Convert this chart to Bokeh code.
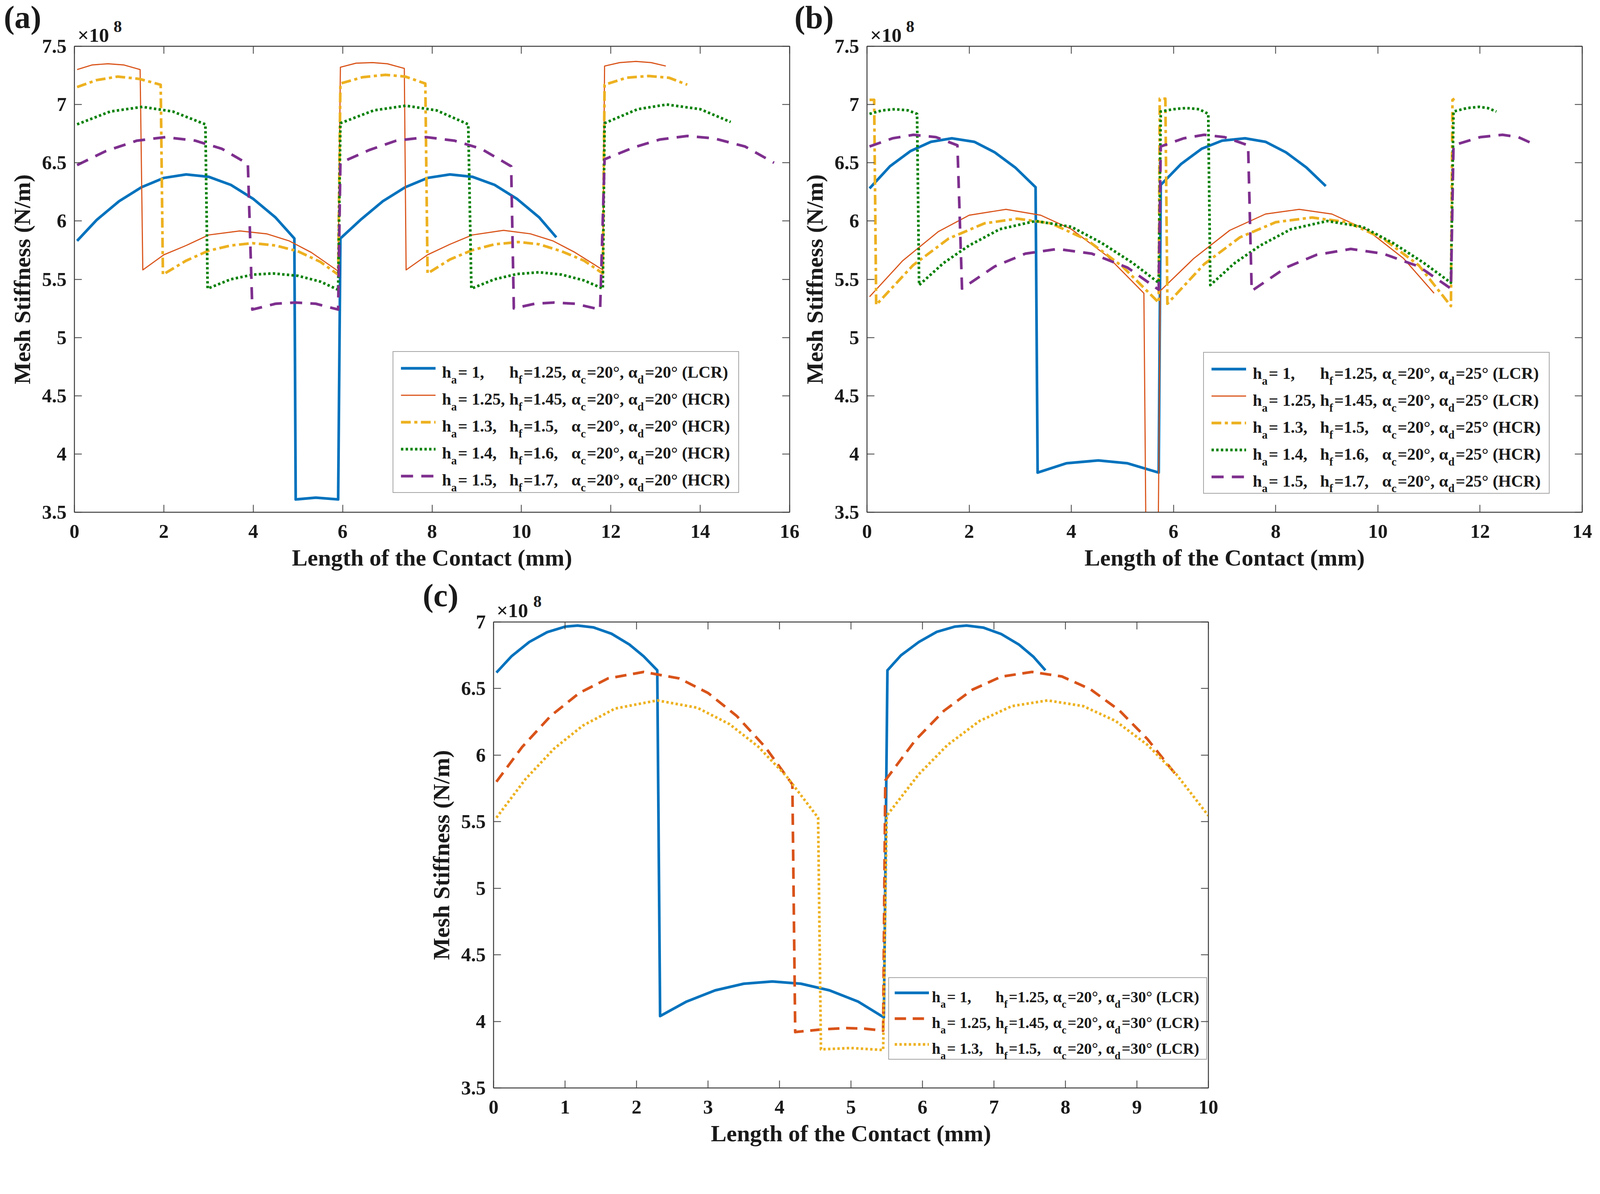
from bokeh.plotting import figure
from bokeh.models import (Range1d, FixedTicker, LinearAxis, Label, Legend,
                          LegendItem, Spacer, CustomJSTickFormatter, Div)
from bokeh.layouts import row, column
from bokeh.embed import file_html
from bokeh.resources import INLINE

FONT = "Liberation Serif"
INK = "#1a1a1a"
AXC = "#3c3c3c"
BLUE, RED, YELLOW, GREEN, PURPLE = "#0072BD", "#D95319", "#EDB120", "#008000", "#7E2F8E"
S = 0.969  # page px per picture px

# ---------------- panel (a): alpha_d = 20 deg ----------------
a_xticks = [0, 2, 4, 6, 8, 10, 12, 14, 16]
a_yticks = [3.5, 4, 4.5, 5, 5.5, 6, 6.5, 7, 7.5]

a1_x = [0.06, 0.5, 1.0, 1.5, 2.0, 2.5, 3.0, 3.5, 4.0, 4.5, 4.92, 4.95, 5.4, 5.90,
        5.95, 6.4, 6.9, 7.4, 7.9, 8.4, 8.9, 9.4, 9.9, 10.4, 10.78]
a1_y = [5.83, 6.01, 6.17, 6.29, 6.37, 6.40, 6.38, 6.31, 6.19, 6.03, 5.85, 3.61, 3.625, 3.61,
        5.85, 6.01, 6.17, 6.29, 6.37, 6.40, 6.38, 6.31, 6.19, 6.03, 5.86]

a2_x = [0.06, 0.4, 0.75, 1.1, 1.47, 1.53, 2.0, 2.5, 3.0, 3.7, 4.3, 4.8, 5.3, 5.90,
        5.95, 6.3, 6.67, 7.0, 7.38, 7.42, 7.9, 8.4, 8.9, 9.6, 10.2, 10.7, 11.2, 11.82,
        11.86, 12.2, 12.56, 12.9, 13.23]
a2_y = [7.30, 7.34, 7.35, 7.34, 7.30, 5.58, 5.71, 5.79, 5.88, 5.915, 5.89, 5.83, 5.73, 5.57,
        7.32, 7.355, 7.36, 7.35, 7.31, 5.58, 5.71, 5.80, 5.88, 5.92, 5.89, 5.83, 5.73, 5.58,
        7.33, 7.36, 7.37, 7.36, 7.33]

a3_x = [0.06, 0.5, 0.97, 1.45, 1.93, 1.98, 2.5, 3.0, 3.5, 3.98, 4.5, 5.0, 5.5, 5.90,
        5.95, 6.45, 6.96, 7.4, 7.85, 7.90, 8.4, 8.9, 9.4, 9.93, 10.4, 10.9, 11.4, 11.82,
        11.86, 12.35, 12.85, 13.3, 13.71]
a3_y = [7.15, 7.21, 7.24, 7.22, 7.17, 5.54, 5.66, 5.745, 5.79, 5.81, 5.79, 5.74, 5.65, 5.54,
        7.18, 7.235, 7.255, 7.24, 7.18, 5.55, 5.67, 5.75, 5.80, 5.82, 5.80, 5.74, 5.66, 5.55,
        7.17, 7.23, 7.245, 7.23, 7.17]

a4_x = [0.06, 0.8, 1.52, 2.2, 2.93, 2.98, 3.5, 4.0, 4.44, 5.0, 5.5, 5.90,
        5.95, 6.7, 7.41, 8.1, 8.81, 8.88, 9.4, 9.9, 10.39, 10.9, 11.4, 11.82,
        11.86, 12.6, 13.25, 14.0, 14.68]
a4_y = [6.83, 6.94, 6.98, 6.94, 6.83, 5.42, 5.50, 5.54, 5.55, 5.53, 5.48, 5.41,
        6.84, 6.95, 6.99, 6.95, 6.83, 5.42, 5.50, 5.545, 5.56, 5.54, 5.49, 5.42,
        6.84, 6.96, 7.00, 6.96, 6.85]

a5_x = [0.06, 0.7, 1.4, 2.04, 2.7, 3.3, 3.88, 3.98, 4.5, 4.95, 5.4, 5.90,
        5.95, 6.6, 7.2, 7.87, 8.5, 9.1, 9.77, 9.83, 10.3, 10.73, 11.2, 11.76,
        11.86, 12.5, 13.1, 13.71, 14.3, 15.0, 15.65]
a5_y = [6.48, 6.60, 6.69, 6.72, 6.69, 6.62, 6.49, 5.24, 5.29, 5.30, 5.29, 5.24,
        6.50, 6.61, 6.69, 6.72, 6.69, 6.62, 6.47, 5.25, 5.29, 5.30, 5.29, 5.24,
        6.53, 6.63, 6.70, 6.73, 6.71, 6.64, 6.50]

a_ha = ["1", "1.25", "1.3", "1.4", "1.5"]
a_hf = ["1.25", "1.45", "1.5", "1.6", "1.7"]
a_ad = "20"
a_cr = ["LCR", "HCR", "HCR", "HCR", "HCR"]

# ---------------- panel (b): alpha_d = 25 deg ----------------
b_xticks = [0, 2, 4, 6, 8, 10, 12, 14]
b_yticks = [3.5, 4, 4.5, 5, 5.5, 6, 6.5, 7, 7.5]

b1_x = [0.05, 0.45, 0.85, 1.25, 1.66, 2.1, 2.5, 2.9, 3.30, 3.34, 3.9, 4.53, 5.1, 5.71,
        5.75, 6.15, 6.55, 6.95, 7.40, 7.8, 8.2, 8.6, 8.98]
b1_y = [6.28, 6.47, 6.60, 6.68, 6.71, 6.68, 6.59, 6.46, 6.29, 3.84, 3.92, 3.945, 3.92, 3.84,
        6.31, 6.49, 6.62, 6.69, 6.71, 6.68, 6.59, 6.46, 6.30]

b2_x = [0.05, 0.7, 1.4, 2.0, 2.72, 3.4, 4.0, 4.7, 5.42, 5.46, 5.70,
        5.74, 6.4, 7.1, 7.8, 8.46, 9.1, 9.8, 10.5, 11.10]
b2_y = [5.35, 5.66, 5.91, 6.05, 6.10, 6.05, 5.93, 5.70, 5.38, 3.3, 3.3,
        5.40, 5.68, 5.92, 6.06, 6.10, 6.06, 5.92, 5.68, 5.38]

b3_x = [0.05, 0.14, 0.18, 0.9, 1.6, 2.3, 2.94, 3.6, 4.3, 5.0, 5.71, 5.73, 5.84,
        5.88, 6.6, 7.3, 8.0, 8.71, 9.4, 10.1, 10.8, 11.43, 11.46, 11.50]
b3_y = [7.04, 7.04, 5.28, 5.62, 5.85, 5.98, 6.02, 5.98, 5.84, 5.61, 5.30, 7.05, 7.05,
        5.29, 5.63, 5.86, 5.99, 6.03, 5.99, 5.85, 5.62, 5.27, 7.04, 7.05]

b4_x = [0.05, 0.3, 0.55, 0.8, 0.98, 1.02, 1.5, 2.0, 2.6, 3.3, 4.0, 4.6, 5.2, 5.71,
        5.75, 6.0, 6.25, 6.5, 6.68, 6.72, 7.2, 7.7, 8.3, 9.01, 9.7, 10.3, 10.9, 11.43,
        11.48, 11.75, 11.98, 12.15, 12.32]
b4_y = [6.92, 6.95, 6.96, 6.95, 6.92, 5.45, 5.64, 5.79, 5.93, 6.00, 5.95, 5.81, 5.64, 5.47,
        6.94, 6.96, 6.97, 6.96, 6.92, 5.45, 5.64, 5.79, 5.93, 6.00, 5.95, 5.81, 5.64, 5.47,
        6.94, 6.97, 6.98, 6.97, 6.94]

b5_x = [0.05, 0.5, 0.91, 1.35, 1.77, 1.86, 2.5, 3.1, 3.73, 4.4, 5.1, 5.71,
        5.75, 6.2, 6.60, 7.0, 7.46, 7.53, 8.2, 8.8, 9.47, 10.1, 10.8, 11.43,
        11.48, 12.0, 12.44, 12.75, 13.0]
b5_y = [6.64, 6.71, 6.74, 6.72, 6.65, 5.42, 5.61, 5.72, 5.76, 5.72, 5.60, 5.41,
        6.64, 6.71, 6.74, 6.72, 6.65, 5.40, 5.60, 5.71, 5.76, 5.72, 5.61, 5.42,
        6.65, 6.72, 6.74, 6.72, 6.67]

b_ha = ["1", "1.25", "1.3", "1.4", "1.5"]
b_hf = ["1.25", "1.45", "1.5", "1.6", "1.7"]
b_ad = "25"
b_cr = ["LCR", "LCR", "HCR", "HCR", "HCR"]

# ---------------- panel (c): alpha_d = 30 deg ----------------
c_xticks = [0, 1, 2, 3, 4, 5, 6, 7, 8, 9, 10]
c_yticks = [3.5, 4, 4.5, 5, 5.5, 6, 6.5, 7]

c1_x = [0.04, 0.25, 0.5, 0.75, 1.0, 1.175, 1.4, 1.65, 1.9, 2.1, 2.29,
        2.33, 2.7, 3.1, 3.5, 3.9, 4.3, 4.7, 5.1, 5.46,
        5.51, 5.7, 5.95, 6.2, 6.45, 6.617, 6.85, 7.1, 7.35, 7.55, 7.72]
c1_y = [6.62, 6.742, 6.85, 6.924, 6.965, 6.973, 6.959, 6.912, 6.831, 6.742, 6.637,
        4.04, 4.149, 4.233, 4.283, 4.30, 4.283, 4.233, 4.149, 4.03,
        6.637, 6.75, 6.85, 6.926, 6.965, 6.973, 6.958, 6.91, 6.83, 6.74, 6.637]

c2_x = [0.04, 0.4, 0.8, 1.2, 1.6, 2.1, 2.6, 3.0, 3.4, 3.8, 4.18,
        4.22, 4.6, 4.94, 5.2, 5.45,
        5.48, 5.9, 6.3, 6.7, 7.1, 7.53, 7.95, 8.35, 8.75, 9.15, 9.55]
c2_y = [5.80, 6.061, 6.295, 6.467, 6.576, 6.625, 6.576, 6.467, 6.295, 6.061, 5.78,
        3.92, 3.94, 3.95, 3.945, 3.93,
        5.81, 6.112, 6.333, 6.492, 6.589, 6.625, 6.591, 6.495, 6.338, 6.119, 5.85]

c3_x = [0.04, 0.45, 0.85, 1.25, 1.7, 2.29, 2.85, 3.3, 3.7, 4.1, 4.54,
        4.58, 5.0, 5.45,
        5.5, 5.95, 6.35, 6.8, 7.25, 7.75, 8.25, 8.7, 9.15, 9.55, 10.0]
c3_y = [5.53, 5.822, 6.05, 6.222, 6.35, 6.411, 6.356, 6.233, 6.065, 5.84, 5.53,
        3.79, 3.80, 3.785,
        5.545, 5.857, 6.076, 6.257, 6.368, 6.411, 6.368, 6.257, 6.076, 5.857, 5.545]

c_ha = ["1", "1.25", "1.3"]
c_hf = ["1.25", "1.45", "1.5"]
c_ad = "30"
c_cr = ["LCR", "LCR", "LCR"]

EM = {"h": 0.556, "α": 0.56, "a": 0.5, "f": 0.333, "c": 0.444, "d": 0.556}
ON_TOP = {"position": "relative", "z-index": "10", "overflow": "visible"}


def s(v):
    return int(round(v * S))


def px(v):
    return f"{v * S:.1f}px"


def dash(*d):
    return " ".join(str(max(1, s(v))) for v in d)


def make_fig(w, h, xr, yr, xticks, yticks, bl, br, bt, bb):
    p = figure(width=s(w), height=s(h), x_range=Range1d(*xr), y_range=Range1d(*yr),
               tools="", toolbar_location=None, output_backend="svg",
               min_border_left=s(bl), min_border_right=s(br),
               min_border_top=s(bt), min_border_bottom=s(bb),
               background_fill_color="white", border_fill_alpha=0)
    p.grid.visible = False
    p.outline_line_color = AXC
    p.outline_line_width = 2
    fmt = CustomJSTickFormatter(code="return String(tick)")
    for ax, ticks in ((p.xaxis[0], xticks), (p.yaxis[0], yticks)):
        ax.ticker = FixedTicker(ticks=ticks)
        ax.formatter = fmt
        ax.major_tick_in = s(20)
        ax.major_tick_out = 0
        ax.minor_tick_line_color = None
        ax.axis_line_color = AXC
        ax.axis_line_width = 2
        ax.major_tick_line_color = AXC
        ax.major_tick_line_width = 2
        ax.major_label_text_font = FONT
        ax.major_label_text_font_style = "bold"
        ax.major_label_text_font_size = px(52)
        ax.major_label_text_color = INK
        ax.axis_label_text_font = FONT
        ax.axis_label_text_font_style = "bold"
        ax.axis_label_text_font_size = px(62)
        ax.axis_label_text_color = INK
    p.xaxis[0].axis_label = "Length of the Contact (mm)"
    p.yaxis[0].axis_label = "Mesh Stiffness (N/m)"
    p.xaxis[0].major_label_standoff = s(33)
    p.xaxis[0].axis_label_standoff = s(14)
    p.yaxis[0].major_label_standoff = s(21)
    p.yaxis[0].axis_label_standoff = s(15)
    # mirrored ticks on top and right, no labels
    blank = CustomJSTickFormatter(code="return ''")
    for side, ticks in (("above", xticks), ("right", yticks)):
        ax = LinearAxis(ticker=FixedTicker(ticks=ticks), formatter=blank,
                        major_tick_in=s(20), major_tick_out=0, minor_tick_line_color=None,
                        axis_line_color=AXC, axis_line_width=2,
                        major_tick_line_color=AXC, major_tick_line_width=2,
                        major_label_text_font_size="1px", major_label_standoff=0)
        p.add_layout(ax, side)
    return p


def tag_div(w, h, items):
    # items: (left, baseline, text, font px) in picture px relative to the div
    parts = []
    for left, base, txt, fs in items:
        top = (base - 0.8375 * fs) * S
        parts.append(
            f'<div style="position:absolute;left:{left * S:.1f}px;top:{top:.1f}px;'
            f"font-family:'Liberation Serif';font-weight:bold;font-size:{fs * S:.1f}px;"
            f'line-height:1;color:{INK};white-space:nowrap">{txt}</div>')
    html = (f'<div style="position:relative;width:{s(w)}px;height:{s(h)}px">'
            + "".join(parts) + "</div>")
    return Div(text=html, width=s(w), height=s(h), margin=0, styles=ON_TOP)


def note(p, dx, dy, text, size):
    p.add_layout(Label(x=p.x_range.start, y=p.y_range.start, x_offset=dx * S, y_offset=dy * S,
                       text=text, text_font=FONT, text_font_style="bold",
                       text_font_size=px(size), text_color=INK, text_baseline="alphabetic",
                       text_align="left", level="overlay"))


def legend_box(p, rends, left, bottom, width, pad, rh, gap, gw, has, hfs, ad, crs,
               cols, fs, ss, drop):
    n = len(rends)
    height = 2 * pad + n * rh + (n - 1) * gap
    items = [LegendItem(label=" ", renderers=[r]) for r in rends]
    lg = Legend(items=items, location=(s(left), s(bottom)), orientation="vertical", margin=0,
                padding=s(pad), spacing=s(gap), glyph_width=s(gw), glyph_height=s(rh),
                label_height=s(rh), label_width=s(width - 2 * pad - gw - 10),
                label_standoff=s(10), label_text_font_size="10px",
                border_line_color="#4a4a4a", border_line_width=2,
                background_fill_color="white", background_fill_alpha=0)
    p.add_layout(lg)
    for i in range(n):
        base = bottom + height - (pad + rh / 2 + 8) - i * (rh + gap)
        parts = [("h", "a", f"= {has[i]},"), ("h", "f", f"={hfs[i]},"),
                 ("α", "c", "=20°,"), ("α", "d", f"={ad}° ({crs[i]})")]
        for col, (sym, sub, rest) in zip(cols, parts):
            x0 = left + col
            note(p, x0, base, sym, fs)
            xs = x0 + EM[sym] * fs
            note(p, xs, base - drop, sub, ss)
            note(p, xs + EM[sub] * ss + 3, base, rest, fs)


def draw(p, xs, ys, color, width, dsh="solid"):
    return p.line(xs, ys, line_color=color, line_width=width * S, line_dash=dsh,
                  line_join="round")


DASHDOT = dash(26, 9, 8, 9)
DOTS = dash(6, 6)
DASHED = dash(32, 22)
OVERLAP = 22  # figures slide up under the tag strip by this much

# ---- (a)
pa = make_fig(2112, 1435, (0, 16), (3.5, 7.5), a_xticks, a_yticks, 196, 27, 30, 174)
ra = [draw(pa, a1_x, a1_y, BLUE, 7),
      draw(pa, a2_x, a2_y, RED, 3),
      draw(pa, a3_x, a3_y, YELLOW, 7, DASHDOT),
      draw(pa, a4_x, a4_y, GREEN, 7, DOTS),
      draw(pa, a5_x, a5_y, PURPLE, 7, DASHED)]
legend_box(pa, ra, 841, 51, 912, 20, 46, 25, 92, a_ha, a_hf, a_ad, a_cr,
           [130, 308, 472, 622], 44, 30, 20)
da = tag_div(2092, 114, [(10, 75, "(a)", 85), (205, 110, "×10", 53), (300, 85, "8", 44)])

# ---- (b)
pb = make_fig(2102, 1435, (0, 14), (3.5, 7.5), b_xticks, b_yticks, 178, 35, 30, 174)
rb = [draw(pb, b1_x, b1_y, BLUE, 7),
      draw(pb, b2_x, b2_y, RED, 3),
      draw(pb, b3_x, b3_y, YELLOW, 7, DASHDOT),
      draw(pb, b4_x, b4_y, GREEN, 7, DOTS),
      draw(pb, b5_x, b5_y, PURPLE, 7, DASHED)]
legend_box(pb, rb, 889, 48, 912, 20, 46, 25, 92, b_ha, b_hf, b_ad, b_cr,
           [130, 308, 472, 622], 44, 30, 20)
db = tag_div(2122, 114, [(7, 75, "(b)", 85), (207, 110, "×10", 53), (302, 85, "8", 44)])

# ---- (c)
pc = make_fig(2140, 1425, (0, 10), (3.5, 7), c_xticks, c_yticks, 212, 40, 30, 164)
rc = [draw(pc, c1_x, c1_y, BLUE, 7),
      draw(pc, c2_x, c2_y, RED, 7, dash(30, 18)),
      draw(pc, c3_x, c3_y, YELLOW, 7, DOTS)]
legend_box(pc, rc, 1043, 74, 837, 14, 48, 20, 91, c_ha, c_hf, c_ad, c_cr,
           [115, 283, 435, 575], 41, 28, 19)
dc = tag_div(2140, 107, [(25, 75, "(c)", 85), (220, 103, "×10", 53), (317, 77, "8", 44)])
pc.margin = (-s(OVERLAP), 0, 0, 0)

top_tags = row(da, db, styles=ON_TOP)
top_figs = row(pa, pb, margin=(-s(OVERLAP), 0, 0, 0))
bottom = row(Spacer(width=s(1092), height=s(1510)), column(dc, pc))
layout = column(top_tags, top_figs, bottom)

open("out.html", "w").write(file_html(layout, INLINE))
